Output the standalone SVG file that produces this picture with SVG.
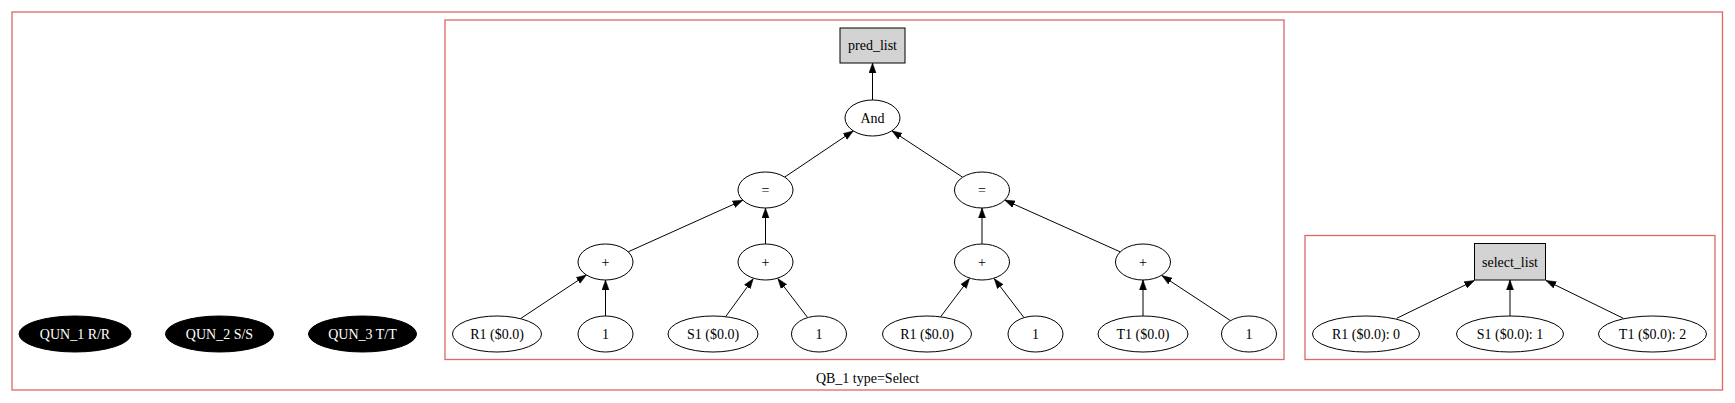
<svg xmlns="http://www.w3.org/2000/svg" width="1735" height="403" viewBox="0 0 1735 403">
<style>
.cl{fill:none;stroke:#e06666;stroke-width:1.3}
.n{fill:#fff;stroke:#000;stroke-width:1}
.box{fill:#d3d3d3;stroke:#000;stroke-width:1}
.q{fill:#000;stroke:#000;stroke-width:1}
text{font-family:"Liberation Serif","Times New Roman",serif;font-size:14px;text-anchor:middle;fill:#000}
.w{fill:#fff}
.e{stroke:#000;stroke-width:1;fill:none;marker-end:url(#ah)}
</style>
<defs>
<marker id="ah" markerUnits="userSpaceOnUse" markerWidth="10" markerHeight="8" refX="10" refY="3.5" orient="auto" viewBox="0 0 10 7">
<path d="M0,0 L10,3.5 L0,7 z" fill="#000" stroke="#000" stroke-width="0.5"/>
</marker>
</defs>
<rect width="1735" height="403" fill="#fff"/>
<g id="clusters">
<rect class="cl" x="12" y="12" width="1710.5" height="378"/>
<rect class="cl" x="445" y="20" width="839" height="339.5"/>
<rect class="cl" x="1305" y="235.5" width="410" height="124"/>
<text x="867.5" y="383">QB_1 type=Select</text>
</g>
<g id="connectors">
<line class="e" x1="872.5" y1="100" x2="872.5" y2="63"/>
<line class="e" x1="784.7" y1="177.1" x2="853.3" y2="130.9"/>
<line class="e" x1="962.6" y1="177.2" x2="891.9" y2="130.8"/>
<line class="e" x1="628.2" y1="251.8" x2="742.8" y2="200.2"/>
<line class="e" x1="765.5" y1="244" x2="765.5" y2="208"/>
<line class="e" x1="982" y1="244" x2="982" y2="208"/>
<line class="e" x1="1120.3" y1="251.9" x2="1004.7" y2="200.1"/>
<line class="e" x1="520.7" y1="318.5" x2="586.4" y2="274.9"/>
<line class="e" x1="605.5" y1="316" x2="605.5" y2="280"/>
<line class="e" x1="725.6" y1="316.7" x2="753.2" y2="278.8"/>
<line class="e" x1="807.5" y1="317.4" x2="777.8" y2="278.6"/>
<line class="e" x1="940.6" y1="316.8" x2="969.5" y2="278.5"/>
<line class="e" x1="1023.8" y1="317.4" x2="994.2" y2="278.6"/>
<line class="e" x1="1143" y1="316" x2="1143" y2="280"/>
<line class="e" x1="1230.3" y1="320.5" x2="1161.9" y2="275.6"/>
<line class="e" x1="1396.7" y1="318.3" x2="1474.5" y2="280.5"/>
<line class="e" x1="1510" y1="316" x2="1510" y2="280"/>
<line class="e" x1="1623.3" y1="318.3" x2="1546" y2="280.5"/>
</g>
<g id="QUN_1"><ellipse class="q" cx="75" cy="334" rx="56" ry="18"/><text class="w" x="75" y="339">QUN_1 R/R</text></g>
<g id="QUN_2"><ellipse class="q" cx="219.5" cy="334" rx="54" ry="18"/><text class="w" x="219.5" y="339">QUN_2 S/S</text></g>
<g id="QUN_3"><ellipse class="q" cx="362.5" cy="334" rx="54" ry="18"/><text class="w" x="362.5" y="339">QUN_3 T/T</text></g>
<g id="pred_list"><rect class="box" x="840" y="28" width="65" height="35"/><text x="872.5" y="50">pred_list</text></g>
<g id="and"><ellipse class="n" cx="872.5" cy="118" rx="27.5" ry="18"/><text x="872.5" y="123">And</text></g>
<g id="eq1"><ellipse class="n" cx="765.5" cy="190" rx="27.5" ry="18"/><text x="765.5" y="195">=</text></g>
<g id="eq2"><ellipse class="n" cx="982" cy="190" rx="27.5" ry="18"/><text x="982" y="195">=</text></g>
<g id="plus1"><ellipse class="n" cx="605.5" cy="262" rx="27.5" ry="18"/><text x="605.5" y="267">+</text></g>
<g id="plus2"><ellipse class="n" cx="765.5" cy="262" rx="27.5" ry="18"/><text x="765.5" y="267">+</text></g>
<g id="plus3"><ellipse class="n" cx="982" cy="262" rx="27.5" ry="18"/><text x="982" y="267">+</text></g>
<g id="plus4"><ellipse class="n" cx="1143" cy="262" rx="27.5" ry="18"/><text x="1143" y="267">+</text></g>
<g id="r1a"><ellipse class="n" cx="497" cy="334" rx="44.5" ry="18"/><text x="497" y="339">R1 ($0.0)</text></g>
<g id="one1"><ellipse class="n" cx="605.5" cy="334" rx="27.5" ry="18"/><text x="605.5" y="339">1</text></g>
<g id="s1"><ellipse class="n" cx="713" cy="334" rx="45" ry="18"/><text x="713" y="339">S1 ($0.0)</text></g>
<g id="one2"><ellipse class="n" cx="819" cy="334" rx="27.5" ry="18"/><text x="819" y="339">1</text></g>
<g id="r1b"><ellipse class="n" cx="927" cy="334" rx="44.5" ry="18"/><text x="927" y="339">R1 ($0.0)</text></g>
<g id="one3"><ellipse class="n" cx="1035.5" cy="334" rx="27.5" ry="18"/><text x="1035.5" y="339">1</text></g>
<g id="t1"><ellipse class="n" cx="1143" cy="334" rx="45" ry="18"/><text x="1143" y="339">T1 ($0.0)</text></g>
<g id="one4"><ellipse class="n" cx="1249" cy="334" rx="27.5" ry="18"/><text x="1249" y="339">1</text></g>
<g id="select_list"><rect class="box" x="1474.5" y="243.5" width="71" height="36.5"/><text x="1510" y="266.5">select_list</text></g>
<g id="sel_r1"><ellipse class="n" cx="1366" cy="334" rx="53.5" ry="18"/><text x="1366" y="339">R1 ($0.0): 0</text></g>
<g id="sel_s1"><ellipse class="n" cx="1510" cy="334" rx="53.5" ry="18"/><text x="1510" y="339">S1 ($0.0): 1</text></g>
<g id="sel_t1"><ellipse class="n" cx="1652.5" cy="334" rx="54" ry="18"/><text x="1652.5" y="339">T1 ($0.0): 2</text></g>
</svg>
